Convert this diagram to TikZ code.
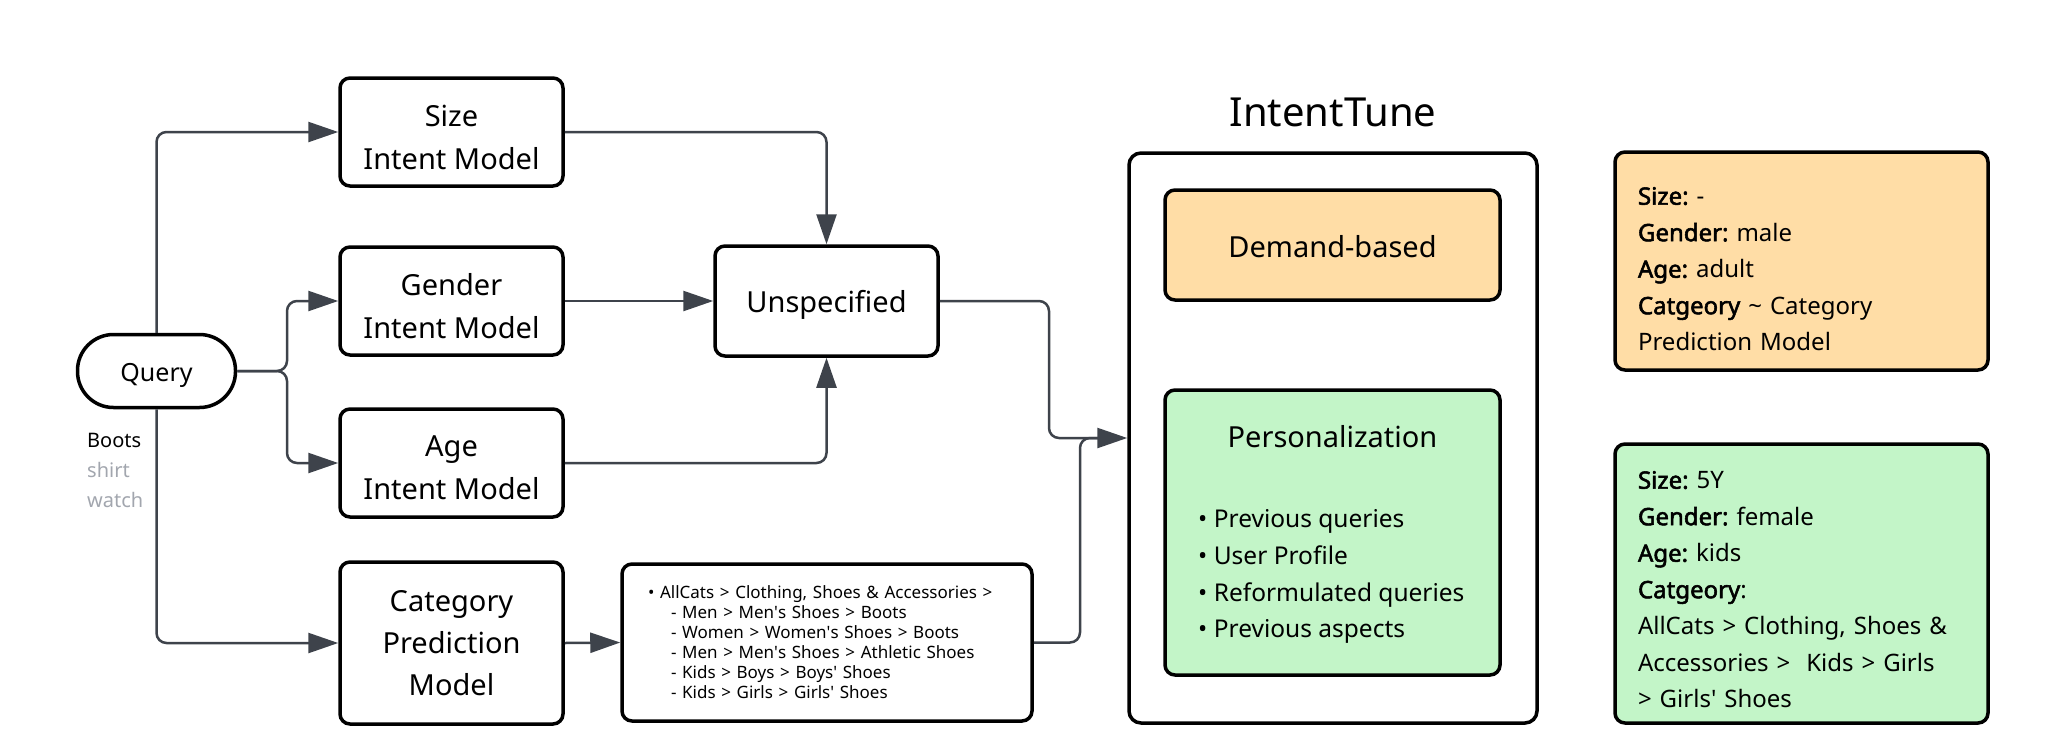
\documentclass[tikz,border=0pt]{standalone}
\usepackage{fontspec}
\setmainfont{Noto Sans}
\newfontfamily\boldfam{Noto Sans}[FakeBold=2.2]
\newcommand{\bt}[1]{{\boldfam #1}}
\usetikzlibrary{arrows.meta}
\definecolor{wirec}{HTML}{3E434B}
\definecolor{peach}{HTML}{FFDDA6}
\definecolor{mint}{HTML}{C3F5C8}
\definecolor{mutedgray}{HTML}{A2A6AE}
\begin{document}
\frenchspacing
\begin{tikzpicture}[x=1pt,y=-1pt,
  mbox/.style={draw=black, line width=3.5pt, rounded corners=10pt, minimum width=223pt},
  btxt/.style={inner sep=0pt, align=center, font=\fontsize{29pt}{43pt}\selectfont},
  wire/.style={draw=wirec, line width=2.5pt, rounded corners=10pt},
  wirearr/.style={wire, -{Triangle[length=30pt,width=20pt]}},
  infotext/.style={align=left, text width=327pt, inner sep=0pt, font=\fontsize{24pt}{36.5pt}\selectfont},
  plain/.style={inner sep=0pt},
]
\useasboundingbox (0,0) rectangle (2066,729);

% left column
\node[mbox, minimum width=158pt, minimum height=73pt, rounded corners=36pt] (query) at (156.5,371) {};
\node[btxt, font=\fontsize{25pt}{30pt}\selectfont] (queryt) at ([yshift=-4pt]query.center) {Query};
\node[plain, anchor=base west, font=\fontsize{20pt}{24pt}\selectfont] (lbl1) at (87,447) {Boots};
\node[plain, anchor=base west, font=\fontsize{20pt}{24pt}\selectfont, text=mutedgray] (lbl2) at (87,477) {shirt};
\node[plain, anchor=base west, font=\fontsize{20pt}{24pt}\selectfont, text=mutedgray] (lbl3) at (87,507) {watch};

\node[mbox, minimum height=108pt] (size) at (451.5,132) {};
\node[btxt] (sizet) at ([yshift=-5pt]size.center) {Size\\Intent Model};
\node[mbox, minimum height=108pt] (gender) at (451.5,301) {};
\node[btxt] (gendert) at ([yshift=-5pt]gender.center) {Gender\\Intent Model};
\node[mbox, minimum height=108pt] (age) at (451.5,463) {};
\node[btxt] (aget) at ([yshift=-5pt]age.center) {Age\\Intent Model};
\node[mbox, minimum height=162pt] (catpred) at (451.5,643) {};
\node[btxt, font=\fontsize{29pt}{42pt}\selectfont] (catpredt) at (catpred.center) {Category\\Prediction\\Model};

\node[mbox, minimum height=110pt] (unspec) at (826.5,301) {};
\node[btxt] (unspect) at ([yshift=-4pt]unspec.center) {Unspecified};
\node[mbox, minimum width=410pt, minimum height=157pt, text width=358pt, inner xsep=26pt, align=left, font=\fontsize{17pt}{20pt}\selectfont] (list) at (827,642.5)
 {\textbullet\ AllCats > Clothing, Shoes \& Accessories >\\
  \hspace*{23pt}- Men > Men\textquotesingle s Shoes > Boots\\
  \hspace*{23pt}- Women > Women\textquotesingle s Shoes > Boots\\
  \hspace*{23pt}- Men > Men\textquotesingle s Shoes > Athletic Shoes\\
  \hspace*{23pt}- Kids > Boys > Boys\textquotesingle\ Shoes\\
  \hspace*{23pt}- Kids > Girls > Girls\textquotesingle\ Shoes};

% IntentTune
\node[plain, anchor=base, font=\fontsize{40pt}{48pt}\selectfont] (title) at (1333,126) {IntentTune};
\node[mbox, minimum width=408pt, minimum height=570pt, rounded corners=12pt] (intent) at (1333,438) {};
\node[mbox, fill=peach, minimum width=335pt, minimum height=110pt] (demand) at (1332.5,245) {};
\node[btxt] (demandt) at ([yshift=-1.5pt]demand.center) {Demand-based};
\node[mbox, fill=mint, minimum width=335pt, minimum height=285pt] (pers) at (1332.5,532.5) {};
\node[plain, anchor=base, font=\fontsize{29pt}{36pt}\selectfont] (perstitle) at (1332.5,447) {Personalization};
\node[plain, anchor=base west, font=\fontsize{24.5pt}{30pt}\selectfont] (pb1) at (1198,527) {\textbullet\ Previous queries};
\node[plain, anchor=base west, font=\fontsize{24.5pt}{30pt}\selectfont] (pb2) at (1198,564) {\textbullet\ User Profile};
\node[plain, anchor=base west, font=\fontsize{24.5pt}{30pt}\selectfont] (pb3) at (1198,601) {\textbullet\ Reformulated queries};
\node[plain, anchor=base west, font=\fontsize{24.5pt}{30pt}\selectfont] (pb4) at (1198,637) {\textbullet\ Previous aspects};

% info boxes
\node[mbox, fill=peach, minimum width=373pt, minimum height=218pt] (infoA) at (1801.5,261) {};
\node[infotext] (infoAt) at ([yshift=-8pt]infoA.center)
 {\bt{Size:} -\\
  \bt{Gender:} male\\
  \bt{Age:} adult\\
  \bt{Catgeory} \textasciitilde{} Category\\
  Prediction Model};
\node[mbox, fill=mint, minimum width=373pt, minimum height=279pt] (infoB) at (1801.5,583.5) {};
\node[infotext] (infoBt) at ([yshift=-6pt]infoB.center)
 {\bt{Size:} 5Y\\
  \bt{Gender:} female\\
  \bt{Age:} kids\\
  \bt{Catgeory}:\\
  AllCats > Clothing, Shoes \&\\
  Accessories >\ \ Kids > Girls\\
  > Girls\textquotesingle\ Shoes};

% connectors
\coordinate (qsplit) at (287,371);
\coordinate (ujog) at (1049,301);
\coordinate (ljog) at (1080,642.5);
\coordinate (merge) at (1100,438);
\draw[wirearr] (query.north) |- (size.west);
\draw[wirearr] (query.east) -- (qsplit) |- (gender.west);
\draw[wirearr] (query.east) -- (qsplit) |- (age.west);
\draw[wirearr] (query.south) |- (catpred.west);
\draw[wirearr] (size.east) -| (unspec.north);
\draw[wirearr] (gender.east) -- (unspec.west);
\draw[wirearr] (age.east) -| (unspec.south);
\draw[wirearr] (catpred.east) -- (list.west);
\draw[wire] (list.east) -- (ljog) |- (merge);
\draw[wirearr] (unspec.east) -- (ujog) |- (intent.west);
\end{tikzpicture}
\end{document}
